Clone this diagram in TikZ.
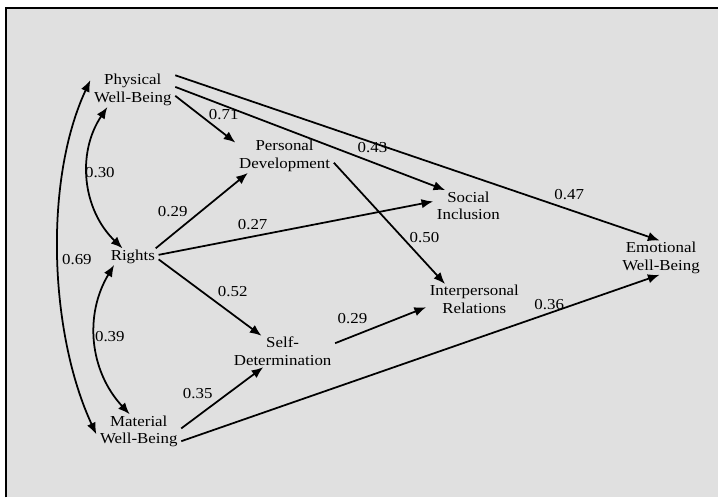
\documentclass[tikz,border=0pt]{standalone}
\usepackage{fontspec}
\setmainfont[FakeStretch=1.11]{Liberation Serif}
\usetikzlibrary{arrows.meta}
\definecolor{panel}{HTML}{E0E0E0}

\begin{document}
\begin{tikzpicture}[x=0.03cm,y=0.03cm,
    var/.style={align=center,inner xsep=3pt,inner ysep=1pt,font=\fontsize{13}{15.1}\selectfont},
    coef/.style={inner sep=0pt,font=\fontsize{13}{15.1}\selectfont},
    effect/.style={line width=1.5pt,-{Latex[length=10pt,width=8pt]}},
    corr/.style={line width=1.5pt,{Latex[length=10pt,width=8pt]}-{Latex[length=10pt,width=8pt]}}]
    % panel
    \fill[white] (0,0) rectangle (719,-498);
    \fill[panel] (6,-8) rectangle (719,-498);
    \draw[line width=1.7pt] (6,-498) -- (6,-8) -- (719,-8);
    % variables
    \node[var] (pwb) at (133,-90) {Physical\\Well-Being};
    \node[var] (pd) at (285,-156) {Personal\\Development};
    \node[var] (si) at (469,-206) {Social\\Inclusion};
    \node[var] (ewb) at (662,-258) {Emotional\\Well-Being};
    \node[var] (ir) at (475,-300) {Interpersonal\\Relations};
    \node[var] (rights) at (133,-257) {Rights};
    \node[var] (sd) at (283,-352) {Self-\\Determination};
    \node[var] (mwb) at (139,-432) {Material\\Well-Being};
    % paths
    \draw[effect] (pwb.-8) -- (pd.165);
    \draw[effect] (pwb.4) -- (si.146);
    \draw[effect] (pwb.19) -- (ewb.95);
    \draw[effect] (pd.-8) -- (ir.152);
    \draw[effect] (rights.20) -- (pd.-155);
    \draw[effect] (rights.4) -- (si.173);
    \draw[effect] (rights.-6) -- (sd);
    \draw[effect] (sd.9) -- (ir.189);
    \draw[effect] (mwb.4) -- (sd.219);
    \draw[effect] (mwb.-13) -- (ewb.-95);
    % correlations
    \draw[corr] (pwb.-146) to[bend right=40] (rights.141);
    \draw[corr] (rights.-156) to[bend right=37] (mwb.118);
    \draw[corr] (pwb.167) to[out=245,in=115,looseness=0.8] (mwb.184);
    % coefficients
    \node[coef] (c71) at (224,-115) {0.71};
    \node[coef] (c30) at (100,-173) {0.30};
    \node[coef] (c29a) at (173,-212) {0.29};
    \node[coef] (c27) at (253,-225) {0.27};
    \node[coef] (c43) at (373,-148) {0.43};
    \node[coef] (c47) at (570,-195) {0.47};
    \node[coef] (c50) at (425,-238) {0.50};
    \node[coef] (c36) at (550,-305) {0.36};
    \node[coef] (c69) at (77,-260) {0.69};
    \node[coef] (c52) at (233,-292) {0.52};
    \node[coef] (c39) at (110,-337) {0.39};
    \node[coef] (c35) at (198,-394) {0.35};
    \node[coef] (c29b) at (353,-319) {0.29};
\end{tikzpicture}
\end{document}
